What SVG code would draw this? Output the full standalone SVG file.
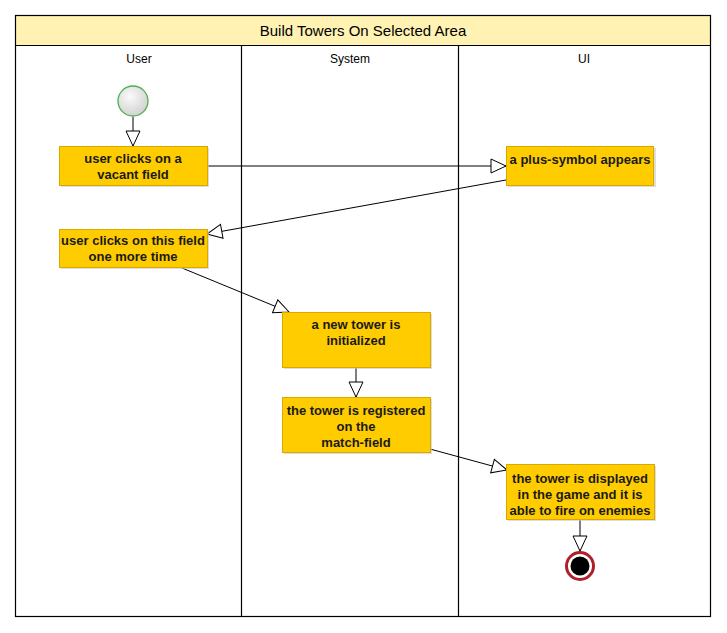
<svg xmlns="http://www.w3.org/2000/svg" width="727" height="633" viewBox="0 0 727 633">
<style>
.frame{fill:none;stroke:#000;stroke-width:1.2}
.act{fill:#FFCC00;stroke:#D9A900;stroke-width:1}
.sh{fill:#c8c8c8;opacity:0.6}
.t{font-family:"Liberation Sans",Arial,sans-serif;font-size:13px;font-weight:bold;fill:#1a1a1a;text-anchor:middle}
.lane{font-family:"Liberation Sans",Arial,sans-serif;font-size:12px;fill:#000;text-anchor:middle}
.title{font-family:"Liberation Sans",Arial,sans-serif;font-size:15px;fill:#000;text-anchor:middle}
.c{fill:none;stroke:#000;stroke-width:1}
</style>
<defs>
<marker id="ah" markerWidth="17" markerHeight="16" refX="16" refY="8" orient="auto" markerUnits="userSpaceOnUse">
<path d="M1,1 L16,8 L1,15 Z" fill="#fff" stroke="#000" stroke-width="1"/>
</marker>
<radialGradient id="sg" cx="0.4" cy="0.35" r="0.7">
<stop offset="0" stop-color="#fafafa"/>
<stop offset="1" stop-color="#d0d0d0"/>
</radialGradient>
</defs>
<rect x="0" y="0" width="727" height="633" fill="#fff"/>
<g id="pool">
<rect x="15.5" y="15.5" width="695" height="30" fill="#FFF2B3"/>
<rect x="15.5" y="15.5" width="695" height="601" class="frame"/>
<line x1="15.5" y1="45.5" x2="710.5" y2="45.5" stroke="#000" stroke-width="1.2"/>
<line x1="241.5" y1="45.5" x2="241.5" y2="616.5" stroke="#000" stroke-width="1.2"/>
<line x1="458.5" y1="45.5" x2="458.5" y2="616.5" stroke="#000" stroke-width="1.2"/>
<text x="363" y="36" class="title">Build Towers On Selected Area</text>
<text x="139" y="63" class="lane">User</text>
<text x="350" y="63" class="lane">System</text>
<text x="584" y="63" class="lane">UI</text>
</g>
<g id="connectors">
<line x1="133" y1="117" x2="133" y2="146" class="c" marker-end="url(#ah)"/>
<line x1="207" y1="166" x2="506" y2="166" class="c" marker-end="url(#ah)"/>
<line x1="506" y1="180" x2="207" y2="234" class="c" marker-end="url(#ah)"/>
<line x1="182" y1="268" x2="289" y2="312" class="c" marker-end="url(#ah)"/>
<line x1="356" y1="367" x2="356" y2="397" class="c" marker-end="url(#ah)"/>
<line x1="430" y1="449" x2="507" y2="470" class="c" marker-end="url(#ah)"/>
<line x1="580" y1="519" x2="580" y2="551" class="c" marker-end="url(#ah)"/>
</g>
<g id="start">
<circle cx="133" cy="101" r="15" fill="url(#sg)" stroke="#4CAF50" stroke-width="1.3"/>
</g>
<g id="a1">
<rect x="61" y="148" width="148" height="39" class="sh"/>
<rect x="59.5" y="146.5" width="148" height="39" class="act"/>
<text x="133" y="163" class="t">user clicks on a</text>
<text x="133" y="179" class="t">vacant field</text>
</g>
<g id="a2">
<rect x="508" y="148" width="148" height="39" class="sh"/>
<rect x="506.5" y="146.5" width="147" height="39" class="act"/>
<text x="580" y="164" class="t">a plus-symbol appears</text>
</g>
<g id="a3">
<rect x="61" y="231" width="148" height="38" class="sh"/>
<rect x="59.5" y="229.5" width="148" height="38" class="act"/>
<text x="133" y="245" class="t">user clicks on this field</text>
<text x="133" y="261" class="t">one more time</text>
</g>
<g id="a4">
<rect x="284" y="314" width="148" height="55" class="sh"/>
<rect x="282.5" y="312.5" width="148" height="55" class="act"/>
<text x="356" y="329" class="t">a new tower is</text>
<text x="356" y="345" class="t">initialized</text>
</g>
<g id="a5">
<rect x="284" y="399" width="148" height="55" class="sh"/>
<rect x="282.5" y="397.5" width="148" height="55" class="act"/>
<text x="356" y="415" class="t">the tower is registered</text>
<text x="356" y="431" class="t">on the</text>
<text x="356" y="447" class="t">match-field</text>
</g>
<g id="a6">
<rect x="508" y="466" width="148" height="55" class="sh"/>
<rect x="506.5" y="464.5" width="148" height="55" class="act"/>
<text x="580" y="483" class="t">the tower is displayed</text>
<text x="580" y="499" class="t">in the game and it is</text>
<text x="580" y="515" class="t">able to fire on enemies</text>
</g>
<g id="end">
<circle cx="580" cy="566" r="13.5" fill="#fff" stroke="#B0202A" stroke-width="3"/>
<circle cx="580" cy="566" r="9.5" fill="#000"/>
</g>
</svg>
